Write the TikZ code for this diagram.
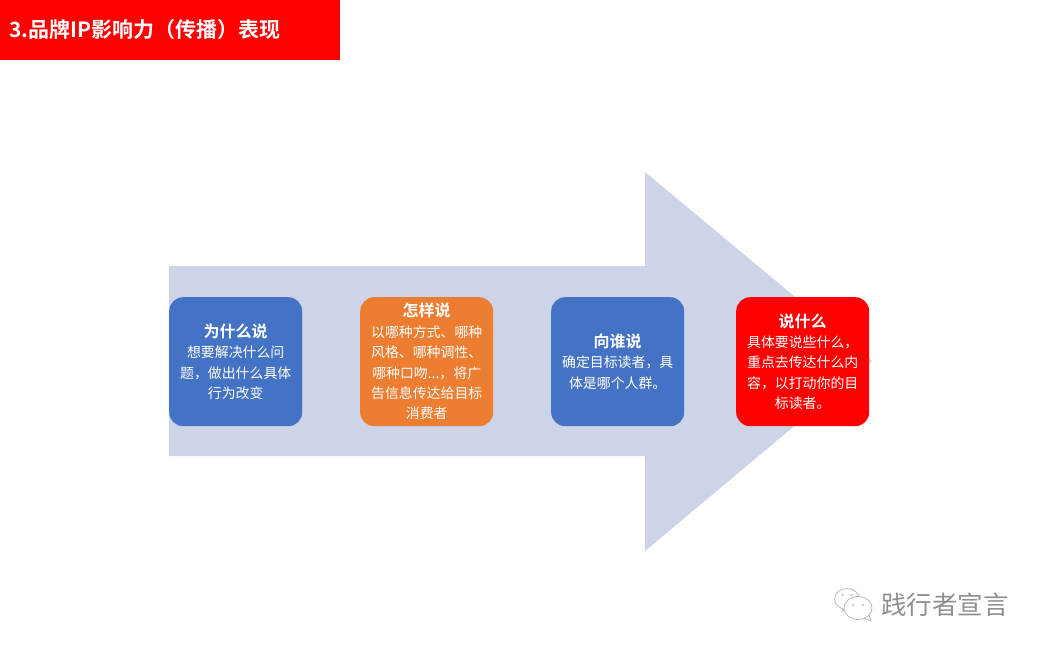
\documentclass[tikz,border=0pt]{standalone}
\usepackage{fontspec}
\setmainfont{Noto Sans CJK SC}[BoldFont={Noto Sans CJK SC Bold}]
\definecolor{arrowfill}{HTML}{CDD4E8}
\definecolor{boxblue}{HTML}{4472C4}
\definecolor{boxorange}{HTML}{ED7D31}
\definecolor{boxred}{HTML}{FF0000}
\definecolor{markgray}{HTML}{8F8F8F}
\tikzset{
  card/.style={rounded corners=14pt,minimum width=133pt,minimum height=129pt,inner sep=0pt,
    text width=125pt,align=center,text=white,anchor=north west,
    font=\fontsize{13.9pt}{20.4pt}\selectfont},
  bubble/.style={draw=markgray!70,line width=0.7pt,fill=white},
}
\newcommand{\cardhead}[1]{{\fontsize{16pt}{20.4pt}\selectfont\bfseries #1}\\}
\begin{document}
\begin{tikzpicture}[x=1pt,y=-1pt]
\useasboundingbox (0,0) rectangle (1043,651);
\fill[white] (0,0) rectangle (1043,651);
% big arrow
\fill[arrowfill] (169,266) -- (645,266) -- (645,172) -- (872,361) -- (645,551) -- (645,456) -- (169,456) -- cycle;
% title
\node[fill=boxred,minimum width=340pt,minimum height=60pt,inner sep=0pt,anchor=north west] (title) at (0,0) {};
\node[anchor=west,text=white,inner sep=0pt,font=\fontsize{21pt}{24pt}\selectfont\bfseries] (titletext) at (9,30) {3.品牌IP影响力（传播）表现};
% cards
\node[card,fill=boxblue] (why) at (169,297) {\cardhead{为什么说}想要解决什么问\\题，做出什么具体\\行为改变};
\node[card,fill=boxorange] (how) at (360,297) {\cardhead{怎样说}以哪种方式、哪种\\风格、哪种调性、\\哪种口吻...，将广\\告信息传达给目标\\消费者};
\node[card,fill=boxblue] (whom) at (551,297) {\cardhead{向谁说}确定目标读者，具\\体是哪个人群。};
\node[card,fill=boxred] (what) at (736,297) {\cardhead{说什么}具体要说些什么，\\重点去传达什么内\\容，以打动你的目\\标读者。};
% watermark icon
\draw[bubble] (847,604) -- (842,611) -- (851,608);
\draw[bubble] (847,599) ellipse [x radius=12.5pt,y radius=10.5pt];
\fill[markgray!70] (842.5,595) circle (1pt) (851.5,595) circle (1pt);
\draw[bubble] (864,618) -- (871,621) -- (869,615);
\draw[bubble] (858,608) ellipse [x radius=14pt,y radius=11.5pt];
\fill[markgray!70] (853,605) circle (1pt) (863,605) circle (1pt);
\node[anchor=west,inner sep=0pt,text=markgray,font=\fontsize{25.5pt}{28pt}\selectfont] (mark) at (881,605) {践行者宣言};
\end{tikzpicture}
\end{document}
